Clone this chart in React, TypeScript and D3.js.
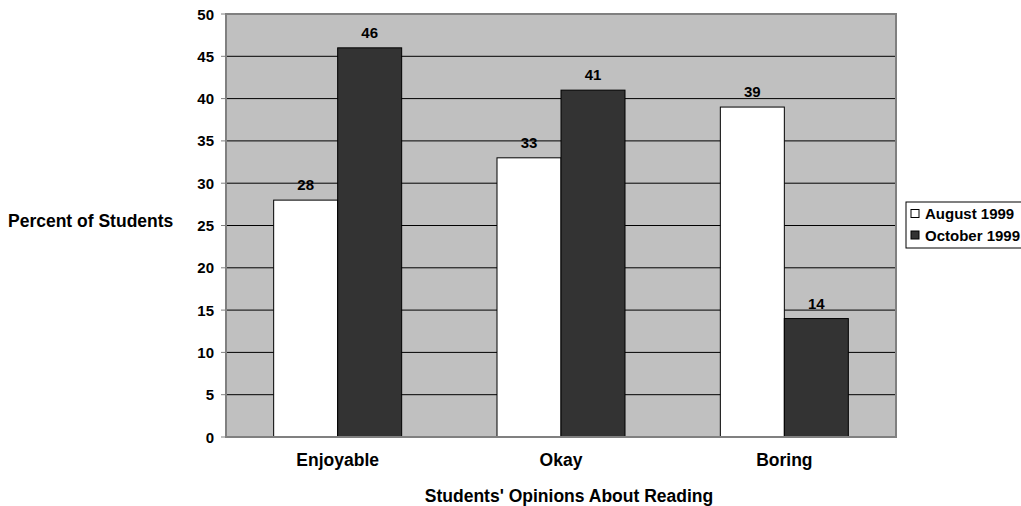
import React from "react";
import * as d3 from "d3";

const categories = ["Enjoyable", "Okay", "Boring"];
const seriesNames = ["August 1999", "October 1999"];
const august = [28, 33, 39];
const october = [46, 41, 14];
const yTicks = [0, 5, 10, 15, 20, 25, 30, 35, 40, 45, 50];
const colors = ["#ffffff", "#333333"];

export default function App() {
  const W = 1021, H = 506;
  const left = 226, right = 896, top = 14, bottom = 437;
  const font = "'Liberation Sans', Arial, sans-serif";
  const x = d3.scaleBand<string>().domain(categories).range([left, right]).paddingInner(0).paddingOuter(0);
  const y = d3.scaleLinear().domain([0, 50]).range([bottom, top]);
  const barW = 64;
  const series = [august, october];

  return (
    <svg width={W} height={H} style={{ position: "absolute", left: 0, top: 0, fontFamily: font }}>
      <rect x={0} y={0} width={W} height={H} fill="#fff" />
      <rect x={left} y={top} width={right - left} height={bottom - top} fill="#c0c0c0" />
      {yTicks.map((t) => (
        <g key={t}>
          {t > 0 && t < 50 && (
            <line x1={left} x2={right} y1={y(t)} y2={y(t)} stroke="#000" strokeWidth={1} />
          )}
          <line x1={left - 5} x2={left} y1={y(t)} y2={y(t)} stroke="#808080" strokeWidth={1} />
          <text x={left - 12} y={y(t) + 5.5} textAnchor="end" fontSize={15} fontWeight="bold">
            {t}
          </text>
        </g>
      ))}
      <rect x={left} y={top} width={right - left} height={bottom - top} fill="none" stroke="#808080" strokeWidth={2} />
      {categories.map((c, i) => {
        const cx = (x(c) as number) + x.bandwidth() / 2;
        return (
          <g key={c}>
            {series.map((s, j) => {
              const bx = cx - barW + j * barW;
              return (
                <g key={j}>
                  <rect x={bx} y={y(s[i])} width={barW} height={bottom - y(s[i])} fill={colors[j]} stroke="#000" strokeWidth={1} />
                  <text x={bx + barW / 2} y={y(s[i]) - 10} textAnchor="middle" fontSize={15} fontWeight="bold">
                    {s[i]}
                  </text>
                </g>
              );
            })}
            <text x={cx} y={466} textAnchor="middle" fontSize={17.5} fontWeight="bold">
              {c}
            </text>
          </g>
        );
      })}
      <line x1={left} x2={right} y1={bottom} y2={bottom} stroke="#808080" strokeWidth={2} />
      <text x={569} y={502} textAnchor="middle" fontSize={17.5} fontWeight="bold">
        Students' Opinions About Reading
      </text>
      <text x={8} y={227} fontSize={17.5} fontWeight="bold">
        Percent of Students
      </text>
      <rect x={906} y={202} width={130} height={46} fill="#fff" stroke="#000" strokeWidth={1} />
      {seriesNames.map((n, j) => (
        <g key={n}>
          <rect x={911} y={209.5 + j * 21.5} width={8} height={8} fill={colors[j]} stroke="#000" strokeWidth={1} />
          <text x={925} y={219 + j * 22} fontSize={15} fontWeight="bold">
            {n}
          </text>
        </g>
      ))}
    </svg>
  );
}
